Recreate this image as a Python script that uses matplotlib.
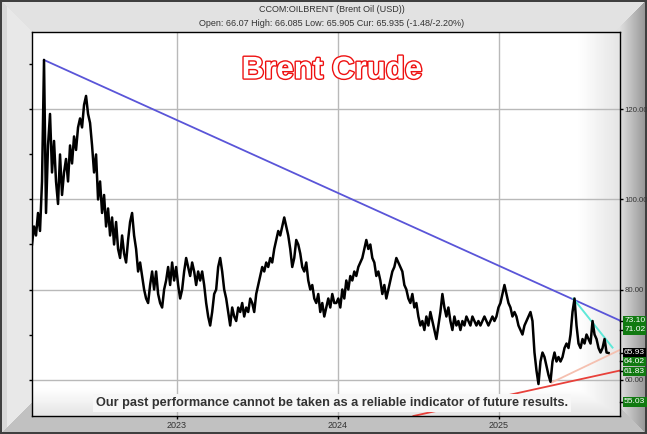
import numpy as np
import pandas as pd
import matplotlib
matplotlib.use('Agg')
import matplotlib.pyplot as plt
import matplotlib.patheffects as pe
from matplotlib import font_manager as fm
from matplotlib.lines import Line2D
from matplotlib.transforms import blended_transform_factory

# Brent closes, sampled roughly every 4.5 days from Feb 2022 to Sep 2025
close = [
    90, 94, 92, 97, 93, 104, 131, 97, 112, 119, 106, 113, 104, 99, 110, 101,
    106, 109, 104, 112, 108, 114, 111, 116, 118, 116, 121, 123, 119, 117, 112, 106,
    110, 100, 104, 97, 101, 94, 98, 92, 96, 90, 95, 89, 87, 92, 88, 86,
    91, 95, 97, 92, 89, 84, 86, 83, 80, 78, 77, 81, 84, 80, 84, 79,
    77, 76, 80, 82, 85, 81, 86, 82, 85, 81, 78, 80, 84, 87, 85, 83,
    86, 84, 81, 84, 82, 84, 81, 77, 74, 72, 75, 79, 80, 85, 87, 84,
    80, 78, 75, 72, 76, 74, 73, 76, 75, 77, 74, 76, 75, 78, 77, 75,
    79, 81, 83, 85, 84, 86, 85, 87, 86, 89, 91, 93, 92, 94, 96, 94,
    92, 89, 85, 87, 91, 90, 88, 85, 84, 86, 82, 80, 81, 78, 77, 79,
    75, 77, 74, 76, 78, 76, 79, 77, 77, 78, 76, 80, 78, 82, 80, 83,
    82, 84, 83, 85, 86, 87, 89, 91, 89, 90, 87, 86, 83, 84, 82, 79,
    81, 78, 80, 82, 84, 85, 87, 86, 85, 84, 81, 80, 78, 77, 79, 76,
    77, 74, 72, 73, 71, 74, 72, 75, 73, 71, 69, 72, 75, 79, 76, 74,
    76, 73, 71, 74, 72, 73, 71, 73, 72, 74, 73, 72, 74, 73, 72, 73,
    72, 73, 74, 73, 72, 73, 74, 73, 74, 76, 77, 79, 81, 79, 77, 76,
    74, 75, 74, 72, 71, 70, 72, 73, 74, 75, 73, 66, 62, 59, 64, 66,
    65, 63, 61, 59.5, 64, 66, 64, 65, 64, 65, 67, 68, 67, 70, 75, 78,
    72, 68, 67, 69, 68, 70, 69, 68, 73, 70, 69, 67, 66, 67, 69, 66,
    65.9,
]
dates = pd.date_range('2022-02-06', '2025-09-07', periods=len(close))

# trend lines: (start date, end date), (start value, end value)
blue_dates = pd.to_datetime(['2022-03-05', '2025-10-03'])
blue_vals = [131.0, 73.10]
cyan_dates = pd.to_datetime(['2025-06-19', '2025-09-16'])
cyan_vals = [78.0, 67.1]
pink_dates = pd.to_datetime(['2025-04-30', '2025-10-03'])
pink_vals = [59.3, 66.6]
red_dates = pd.to_datetime(['2024-06-21', '2025-10-03'])
red_vals = [51.9, 62.0]

# price levels flagged on the right axis
target_vals = [73.10, 71.02, 64.02, 61.83, 55.03]
current_val = 65.93
grid_vals = [60, 80, 100, 120]
year_ticks = pd.to_datetime(['2023-01-01', '2024-01-01', '2025-01-01'])
year_labels = ['2023', '2024', '2025']

header1 = 'CCOM:OILBRENT (Brent Oil (USD))'
header2 = 'Open: 66.07 High: 66.085 Low: 65.905 Cur: 65.935 (-1.48/-2.20%)'
disclaimer = 'Our past performance cannot be taken as a reliable indicator of future results.'


def has_font(name):
    try:
        fm.findfont(fm.FontProperties(family=name), fallback_to_default=False)
        return True
    except ValueError:
        return False


base_font = 'Liberation Sans' if has_font('Liberation Sans') else 'DejaVu Sans'
narrow_font = 'Liberation Sans Narrow' if has_font('Liberation Sans Narrow') else base_font
plt.rcParams['font.family'] = [base_font, 'DejaVu Sans']

W, H = 647, 434
fig = plt.figure(figsize=(W / 100, H / 100), dpi=100)

# bevelled gray frame behind everything
yy, xx = np.mgrid[0:H, 0:W].astype(float)
dl, dr, dt, db = xx, W - 1 - xx, yy, H - 1 - yy
side = np.argmin(np.stack([dl, dr, dt, db]), axis=0)
frame = np.empty((H, W))
frame[side == 0] = 0.91 - 0.06 * (dl[side == 0] < 7)
frame[side == 1] = 0.88 - 0.30 * np.clip(1 - dr[side == 1] / 27.0, 0, 1)
frame[side == 2] = 0.89
frame[side == 3] = 0.76
frame[(dl < 1.5) | (dr < 1.5) | (dt < 1.5) | (db < 1.5)] = 0.25
bg = fig.add_axes([0, 0, 1, 1], zorder=-2)
bg.imshow(np.dstack([frame] * 3), aspect='auto', interpolation='nearest')
bg.axis('off')

left, right, top, bottom = 32, 620, 32, 416
ax = fig.add_axes([left / W, 1 - bottom / H, (right - left) / W, (bottom - top) / H])

# soft shading toward the right and bottom edges of the plot
gx = np.clip((np.linspace(0, 1, 300) - 0.93) / 0.07, 0, 1)
gy = np.clip((np.linspace(0, 1, 200) - 0.93) / 0.07, 0, 1)
shade = 1 - 0.10 * np.maximum(gx[None, :], gy[:, None])
ax.imshow(shade, extent=[0, 1, 0, 1], transform=ax.transAxes, cmap='gray',
          vmin=0, vmax=1, aspect='auto', zorder=0, origin='upper')

for v in grid_vals:
    ax.axhline(v, color='#b9b9b9', lw=1, zorder=1)
for d in year_ticks:
    ax.axvline(d, color='#b9b9b9', lw=1, zorder=1)

ax.plot(red_dates, red_vals, color='#e8403a', lw=1.3, zorder=2)
ax.plot(pink_dates, pink_vals, color='#f5c0b0', lw=1.3, zorder=2)
ax.plot(blue_dates, blue_vals, color='#5a55d8', lw=1.3, zorder=2)
ax.plot(cyan_dates, cyan_vals, color='#5ee8d8', lw=1.4, zorder=2)
ax.plot(dates, close, color='black', lw=1.8, zorder=3)

ax.set_xlim(pd.Timestamp('2022-02-06'), pd.Timestamp('2025-10-03'))
ax.set_ylim(51.9, 137.2)

ax.set_yticks(grid_vals)
ax.set_yticklabels(['%.2f' % v for v in grid_vals])
ax.set_yticks([70, 90, 110, 130], minor=True)
ax.yaxis.set_ticks_position('both')
ax.tick_params(axis='y', which='major', left=True, right=True, labelleft=False,
               labelright=True, length=2, width=1, pad=1, labelsize=5.6,
               labelcolor='#333333')
ax.tick_params(axis='y', which='minor', left=True, right=False, length=2, width=1)
ax.set_xticks(year_ticks)
ax.set_xticklabels(year_labels)
ax.tick_params(axis='x', length=2, width=1, pad=1.5, labelsize=6.5, labelcolor='#333333')
for s in ax.spines.values():
    s.set_linewidth(1)
    s.set_color('black')

# flagged levels on the right
tr = blended_transform_factory(ax.transAxes, ax.transData)
for v in target_vals + [current_val]:
    ax.add_line(Line2D([1.0, 1.005], [v, v], transform=tr, color='black', lw=1,
                       clip_on=False, zorder=5))
ax.text(1.007, current_val, '%.2f' % current_val, transform=tr, color='white',
        fontsize=6.0, va='center', ha='left', clip_on=False, zorder=6,
        bbox=dict(boxstyle='square,pad=0.15', fc='black', ec='none'))
for v in target_vals:
    ax.text(1.007, v, '%.2f' % v, transform=tr, color='white', fontsize=6.0,
            va='center', ha='left', clip_on=False, zorder=7,
            bbox=dict(boxstyle='square,pad=0.15', fc='#117a11', ec='none'))

ax.text(0.51, 0.9, 'Brent Crude', transform=ax.transAxes, ha='center', va='center',
        fontsize=22.5, fontweight='bold', color='white', zorder=6,
        path_effects=[pe.withStroke(linewidth=2.0, foreground='#ee1111')])

ax.text(0.51, 0.034, disclaimer, transform=ax.transAxes, ha='center', va='center',
        fontsize=9.2, fontweight='bold', color='#333333', zorder=6,
        family=[narrow_font, 'DejaVu Sans'], fontstretch='condensed',
        bbox=dict(boxstyle='square,pad=0.25', fc='#f7f7f7', ec='none'))

fig.text(332 / W, 1 - 9 / H, header1, ha='center', va='center', fontsize=6.5,
         color='#333333')
fig.text(332 / W, 1 - 23 / H, header2, ha='center', va='center', fontsize=6.5,
         color='#333333')

fig.savefig('out.png', dpi=100)
